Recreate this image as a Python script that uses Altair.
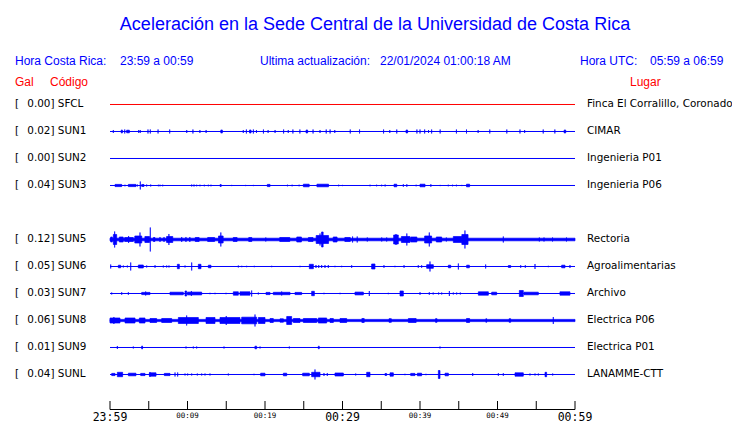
import altair as alt
import pandas as pd

# ---------------- text content ----------------
TITLE = "Aceleración en la Sede Central de la Universidad de Costa Rica"
HEADER_CR = ["Hora Costa Rica:", "23:59 a 00:59"]
HEADER_UPD = ["Ultima actualización:", "22/01/2024 01:00:18 AM"]
HEADER_UTC = ["Hora UTC:", "05:59 a 06:59"]
COL_HEADS = ["Gal", "Código", "Lugar"]

# ---------------- stations ----------------
stations = ["SFCL", "SUN1", "SUN2", "SUN3", "SUN5", "SUN6", "SUN7", "SUN8", "SUN9", "SUNL"]
rows = [0, 1, 2, 3, 5, 6, 7, 8, 9, 10]
gal = [0.00, 0.02, 0.00, 0.04, 0.12, 0.05, 0.03, 0.06, 0.01, 0.04]
places = ["Finca El Corralillo, Coronado", "CIMAR", "Ingenieria P01", "Ingenieria P06",
          "Rectoria", "Agroalimentarias", "Archivo", "Electrica P06", "Electrica P01",
          "LANAMME-CTT"]

# time axis (minutes after 23:59)
minutes_range = [0, 60]
tick_minutes = [0, 5, 10, 15, 20, 25, 30, 35, 40, 45, 50, 55, 60]
major_minutes = [0, 30, 60]
major_labels = ["23:59", "00:29", "00:59"]
minor_minutes = [10, 20, 40, 50]
minor_labels = ["00:09", "00:19", "00:39", "00:49"]

# continuous noise floor (half-amplitude, px)
noise_floor = {"SUN5": 1.3, "SUN8": 1.1}

# bursts: (start minute, end minute, half-amplitude px)
sun1 = [(0.43, 0.43, 1.5), (1.45, 1.6, 1.5), (1.9, 1.9, 2), (2.15, 2.5, 1.3), (3.7, 3.7, 1.5),
        (3.9, 3.9, 1.5), (4.9, 4.9, 2), (5.2, 5.2, 2), (6.2, 6.2, 2), (7.7, 7.7, 2),
        (9.9, 9.9, 1.5), (10.7, 10.7, 2), (11.6, 11.6, 1.5), (12.4, 12.4, 1.5), (14.3, 14.5, 1.5),
        (17.2, 17.2, 1.5), (17.6, 17.6, 2), (18.0, 18.2, 1.5), (18.5, 18.5, 2), (18.9, 18.9, 1.5),
        (19.8, 19.8, 2), (20.4, 20.4, 1.5), (21.3, 21.3, 1.5), (22.4, 22.4, 2), (23.0, 23.0, 1.5),
        (23.6, 23.6, 2), (24.5, 24.5, 2), (25.3, 25.5, 1.5), (26.2, 26.2, 2), (27.1, 27.1, 1.5),
        (27.9, 27.9, 2), (28.4, 28.4, 2), (29.0, 29.0, 1.5), (31.0, 31.0, 2), (32.2, 32.2, 2),
        (35.3, 35.3, 2), (36.1, 36.1, 1.5), (37.0, 37.0, 2), (38.2, 38.4, 1.5), (39.6, 39.6, 2),
        (40.0, 40.0, 2), (40.6, 40.6, 2), (41.1, 41.1, 1.5), (41.5, 41.5, 2), (42.6, 42.6, 2),
        (44.7, 44.7, 2), (46.0, 46.0, 2), (47.5, 47.5, 1.5), (49.0, 49.0, 2), (51.2, 51.2, 2),
        (52.9, 52.9, 2), (53.5, 53.5, 1.5), (55.9, 55.9, 2), (57.4, 57.4, 2), (58.6, 58.8, 1.5)]

sun3 = [(0.65, 1.51, 1.1), (1.93, 1.93, 0.8), (2.37, 3.35, 1.1), (3.53, 3.53, 1), (3.91, 3.91, 4),
        (4.09, 4.39, 1.0), (4.73, 4.73, 1), (5.25, 5.25, 1), (6.24, 6.24, 0.8), (6.45, 6.45, 0.8),
        (6.8, 6.8, 0.8), (10.54, 10.54, 1), (10.84, 10.84, 1), (11.18, 11.18, 0.8),
        (11.61, 11.61, 0.8), (12.17, 12.17, 0.8), (12.69, 12.69, 0.8), (13.03, 13.03, 0.8),
        (14.2, 14.35, 1.0), (15.7, 15.7, 0.6), (17.5, 17.5, 0.6), (18.5, 18.5, 0.6),
        (20.3, 20.65, 1.1), (22.9, 22.9, 0.8), (23.5, 23.5, 0.8), (24.4, 24.4, 0.8),
        (24.95, 25.7, 1.3), (26.7, 28.2, 1.3), (29.5, 29.5, 0.8), (30.0, 30.0, 0.6),
        (33.55, 33.55, 0.8), (34.4, 34.4, 0.8), (35.05, 35.05, 0.8), (35.5, 35.5, 1),
        (36.65, 37.0, 1.3), (37.85, 37.85, 1.3), (38.3, 38.3, 1.3), (39.5, 39.5, 0.8),
        (40.0, 40.65, 1.3), (41.4, 41.4, 1.3), (42.6, 42.6, 0.6), (43.65, 43.65, 0.8),
        (44.2, 44.2, 0.8), (44.7, 44.7, 0.8), (45.4, 45.4, 0.6), (46.0, 46.4, 1.3)]

sun5 = [(0.09, 0.3, 2.5), (0.43, 0.86, 5), (0.6, 0.6, 8), (1.2, 1.7, 2.5), (1.9, 3.0, 2),
        (2.4, 2.4, 3.5), (3.2, 4.1, 3.5), (3.87, 3.87, 7), (4.5, 5.1, 3), (5.2, 5.2, 12),
        (5.6, 5.8, 2), (6.45, 6.45, 2.5), (6.97, 6.97, 2.5), (7.3, 8.1, 3), (7.6, 7.6, 5.5),
        (9.25, 9.25, 2.5), (9.8, 9.8, 2.5), (10.3, 10.3, 2.5), (11.0, 11.5, 2), (12.6, 13.5, 2),
        (14.0, 14.6, 3.5), (14.3, 14.3, 7), (15.9, 16.4, 2), (17.9, 18.3, 2), (20.1, 20.1, 2),
        (21.9, 23.2, 2), (24.1, 24.7, 2.5), (25.6, 26.2, 2), (26.6, 28.2, 4), (27.1, 27.1, 6),
        (27.3, 27.5, 7.5), (28.8, 29.3, 2.5), (30.3, 31.0, 2), (31.3, 31.3, 3), (31.9, 31.9, 3),
        (33.2, 33.2, 2), (35.06, 35.06, 2), (35.7, 35.7, 2), (36.6, 37.2, 4.5), (36.9, 36.9, 5.5),
        (37.6, 38.7, 3), (38.3, 38.3, 6), (38.8, 39.6, 2.5), (40.6, 41.5, 3.5), (41.2, 41.2, 7),
        (42.1, 42.8, 2.5), (43.4, 43.4, 2), (44.3, 45.4, 3), (45.4, 46.2, 5), (45.8, 45.8, 9),
        (50.75, 50.75, 3), (55.4, 55.4, 2), (56.0, 56.0, 2), (57.1, 57.1, 2), (58.9, 58.9, 2)]

sun6 = [(0.09, 0.09, 2), (1.08, 1.38, 1.3), (1.72, 1.72, 1), (2.24, 2.24, 1), (2.67, 2.67, 4),
        (3.66, 4.3, 1.5), (4.73, 4.73, 1), (5.81, 5.81, 1.3), (6.88, 6.88, 1), (7.31, 7.31, 1),
        (7.61, 7.61, 1), (8.69, 8.95, 2.2), (9.68, 9.68, 1), (10.54, 10.54, 4), (11.4, 11.74, 2.2),
        (12.69, 13.03, 1.3), (16.56, 16.56, 1), (17.0, 17.0, 0.7), (17.63, 17.63, 0.7),
        (18.62, 18.62, 0.7), (20.86, 20.86, 0.7), (24.52, 24.52, 0.7), (25.72, 26.24, 2.2),
        (26.58, 26.58, 1.5), (26.93, 26.93, 1.5), (27.31, 27.31, 1.5), (27.74, 27.74, 1.5),
        (28.17, 28.17, 1.5), (29.03, 29.03, 0.7), (29.89, 29.89, 0.7), (31.18, 31.18, 1.3),
        (33.76, 34.19, 2.5), (35.35, 35.35, 1.3), (36.77, 36.77, 0.7), (37.94, 37.94, 1.3),
        (39.78, 39.78, 1.3), (40.21, 40.21, 1.3), (40.86, 41.72, 1.8), (41.29, 41.29, 5),
        (43.66, 43.96, 1.3), (44.95, 44.95, 3), (46.02, 46.37, 1.3), (48.47, 48.47, 2),
        (51.4, 51.7, 1), (52.99, 52.99, 1.3), (53.59, 53.59, 1.3), (54.84, 54.84, 2.5),
        (56.56, 56.56, 0.7), (58.28, 58.71, 1.3), (59.35, 59.35, 1.5)]

sun7 = [(0.22, 0.22, 1), (1.51, 1.51, 1.3), (2.37, 2.37, 1.3), (4.09, 5.16, 1.1), (4.6, 4.6, 2),
        (7.74, 9.46, 1.3), (9.68, 9.89, 2.5), (10.0, 11.83, 1.4), (10.5, 10.5, 2.5),
        (12.9, 12.9, 0.7), (13.55, 13.55, 0.7), (14.97, 14.97, 0.7), (15.91, 16.56, 1.7),
        (16.77, 18.06, 1.7), (18.28, 18.28, 3), (19.14, 19.14, 1), (20.13, 20.65, 1.1),
        (21.07, 23.23, 1.2), (22.15, 22.15, 2), (23.87, 24.73, 1.1), (26.02, 26.37, 2.2),
        (27.61, 27.61, 0.7), (29.68, 29.68, 0.7), (31.61, 32.69, 1.4), (33.46, 33.46, 2.5),
        (35.91, 35.91, 0.7), (37.42, 37.85, 2.5), (40.0, 40.0, 1.3), (41.2, 41.2, 1.3),
        (41.7, 41.7, 1), (42.4, 42.4, 1), (42.8, 42.8, 1), (43.79, 43.79, 2.5), (44.3, 44.3, 1),
        (44.73, 44.73, 1), (45.2, 45.2, 1), (47.53, 48.82, 1.7), (49.25, 49.89, 1.3),
        (52.82, 53.33, 3), (53.42, 55.27, 1.3), (58.06, 59.35, 1.7)]

sun8 = [(0.0, 1.29, 2.5), (0.5, 0.5, 3.5), (1.94, 3.23, 2.5), (3.79, 4.52, 2.5), (5.16, 6.02, 2),
        (6.67, 7.96, 2), (8.82, 11.4, 3), (9.89, 9.89, 5), (12.39, 13.55, 3),
        (14.19, 16.77, 3), (15.0, 15.0, 4.5), (16.99, 18.92, 3.3), (18.71, 18.71, 6),
        (19.14, 20.0, 3), (20.65, 21.07, 2), (21.94, 22.37, 1.7), (22.8, 23.44, 4),
        (23.66, 24.52, 2), (24.95, 26.67, 2), (26.88, 27.96, 2.5), (28.39, 28.82, 2),
        (29.68, 30.54, 2), (32.5, 32.8, 2), (36.0, 36.3, 1.8), (38.5, 39.5, 2),
        (42.0, 42.2, 1.8), (46.0, 46.4, 2), (48.5, 48.6, 1.8), (51.5, 51.7, 1.8), (57.2, 57.2, 3.5)]

sun9 = [(0.95, 0.95, 1.5), (3.01, 3.01, 1), (4.09, 4.2, 1.5), (9.81, 9.81, 1), (10.75, 10.75, 1),
        (11.18, 11.18, 1), (14.71, 14.71, 1), (18.7, 18.92, 1.3), (19.36, 19.36, 1),
        (23.14, 23.14, 1), (26.88, 27.0, 1.3), (42.58, 42.58, 1)]

sunl = [(0.22, 0.65, 1.1), (0.95, 1.63, 2.2), (2.37, 3.35, 1.3), (3.96, 4.52, 1.1), (5.08, 5.94, 1.7),
        (5.16, 5.16, 2.5), (7.01, 7.74, 1.1), (8.39, 8.39, 2), (8.73, 8.73, 2), (9.68, 9.68, 1),
        (10.02, 10.02, 1), (10.54, 10.54, 1), (11.27, 11.27, 1), (11.83, 11.83, 1),
        (12.26, 12.26, 1), (12.9, 12.9, 1), (15.27, 15.27, 1), (18.58, 18.58, 0.7),
        (19.44, 20.0, 1.3), (22.37, 22.8, 1.3), (24.86, 25.72, 1.3), (26.02, 27.1, 2.2),
        (26.45, 26.45, 5), (27.61, 27.61, 1.5), (28.04, 28.04, 1.5), (29.03, 30.11, 1.5),
        (31.7, 31.7, 1), (33.12, 33.55, 2.2), (35.48, 35.7, 1), (36.13, 36.56, 1.7),
        (38.06, 38.06, 0.7), (38.8, 39.35, 1.1), (39.66, 40.21, 1.3), (40.77, 40.77, 0.7),
        (42.37, 42.58, 4), (43.23, 43.66, 1.3), (46.8, 46.8, 1.5), (50.11, 50.11, 1.3),
        (50.75, 50.75, 1.3), (52.26, 53.33, 1.7), (54.19, 54.19, 1), (54.84, 54.84, 1),
        (55.27, 55.27, 1), (56.13, 56.34, 2.2), (57.12, 57.12, 1)]

bursts = {"SUN1": sun1, "SUN3": sun3, "SUN5": sun5, "SUN6": sun6, "SUN7": sun7,
          "SUN8": sun8, "SUN9": sun9, "SUNL": sunl}

# ---------------- tables ----------------
PX_PER_ROW = 27.0
row_of = dict(zip(stations, rows))

st_df = pd.DataFrame({
    "code": stations, "row": rows,
    "t0": [minutes_range[0]] * len(stations), "t1": [minutes_range[1]] * len(stations),
    "val": [f"{g:.2f}] {c}" for g, c in zip(gal, stations)],
    "place": places,
})

recs = []
for code, amp in noise_floor.items():
    r = row_of[code]
    recs.append({"code": code, "t0": minutes_range[0], "t1": minutes_range[1],
                 "y0": r - amp / PX_PER_ROW, "y1": r + amp / PX_PER_ROW})
for code, lst in bursts.items():
    r = row_of[code]
    for t0, t1, a in lst:
        recs.append({"code": code, "t0": t0, "t1": t1,
                     "y0": r - a / PX_PER_ROW, "y1": r + a / PX_PER_ROW})
burst_df = pd.DataFrame(recs)

BLUE = "#0000ff"
RED = "#ff0000"

xs = alt.Scale(domain=minutes_range, nice=False, zero=False)
ys = alt.Scale(domain=[-0.5, 11.2778], reverse=True, nice=False, zero=False)
cs = alt.Scale(domain=stations, range=[RED] + [BLUE] * (len(stations) - 1))

base_lines = alt.Chart(st_df).mark_rule(strokeWidth=1).encode(
    x=alt.X("t0:Q", scale=xs, axis=None),
    x2="t1:Q",
    y=alt.Y("row:Q", scale=ys, axis=None),
    color=alt.Color("code:N", scale=cs, legend=None),
)

burst_marks = alt.Chart(burst_df).mark_rect(strokeWidth=0.7).encode(
    x=alt.X("t0:Q", scale=xs, axis=None),
    x2="t1:Q",
    y=alt.Y("y0:Q", scale=ys, axis=None),
    y2="y1:Q",
    color=alt.Color("code:N", scale=cs, legend=None),
    stroke=alt.Stroke("code:N", scale=cs, legend=None),
)

# station labels
lab_font = dict(font="DejaVu Sans", fontSize=10.4, color="black", align="left", baseline="middle")
bracket = alt.Chart(st_df).mark_text(text="[", **lab_font).encode(
    x=alt.value(-95), y=alt.Y("row:Q", scale=ys, axis=None))
values = alt.Chart(st_df).mark_text(**lab_font).encode(
    x=alt.value(-82.7), y=alt.Y("row:Q", scale=ys, axis=None), text="val:N")
place_txt = alt.Chart(st_df).mark_text(**lab_font).encode(
    x=alt.value(477), y=alt.Y("row:Q", scale=ys, axis=None), text="place:N")

# time axis
axis_line = alt.Chart(pd.DataFrame({"t0": [minutes_range[0]], "t1": [minutes_range[1]]})).mark_rule(
    color="black", strokeWidth=1).encode(
    x=alt.X("t0:Q", scale=xs, axis=None), x2="t1:Q", y=alt.value(318.5))
ticks = alt.Chart(pd.DataFrame({"m": tick_minutes})).mark_rule(color="black", strokeWidth=1).encode(
    x=alt.X("m:Q", scale=xs, axis=None), y=alt.value(310), y2=alt.value(318.5))
major_txt = alt.Chart(pd.DataFrame({"m": major_minutes, "lab": major_labels})).mark_text(
    font="DejaVu Sans Mono", fontSize=11.5, baseline="top", align="center", color="black").encode(
    x=alt.X("m:Q", scale=xs, axis=None), y=alt.value(320.5), text="lab:N")
minor_txt = alt.Chart(pd.DataFrame({"m": minor_minutes, "lab": minor_labels})).mark_text(
    font="DejaVu Sans Mono", fontSize=7.5, baseline="top", align="center", color="black").encode(
    x=alt.X("m:Q", scale=xs, axis=None), y=alt.value(321), text="lab:N")


def label(txt, x, y, size, color, align="left"):
    return alt.Chart(pd.DataFrame({"t": [txt]})).mark_text(
        align=align, baseline="alphabetic", font="Liberation Sans", fontSize=size, color=color
    ).encode(x=alt.value(x), y=alt.value(y), text="t:N")


headers = [
    label(TITLE, 265, -61, 18, BLUE, align="center"),
    label(HEADER_CR[0], -95, -26, 12, BLUE),
    label(HEADER_CR[1], 10, -26, 12, BLUE),
    label(HEADER_UPD[0], 150, -26, 12, BLUE),
    label(HEADER_UPD[1], 270, -26, 12, BLUE),
    label(HEADER_UTC[0], 470, -26, 12, BLUE),
    label(HEADER_UTC[1], 540, -26, 12, BLUE),
    label(COL_HEADS[0], -95, -5, 12, RED),
    label(COL_HEADS[1], -60, -5, 12, RED),
    label(COL_HEADS[2], 520, -5, 12, RED),
]

chart = alt.layer(
    base_lines, burst_marks, bracket, values, place_txt,
    axis_line, ticks, major_txt, minor_txt, *headers
).properties(
    width=465, height=318,
    padding={"left": 102, "top": 83, "right": 157, "bottom": 13},
    autosize=alt.AutoSizeParams(type="none"),
    background="white",
).configure_view(strokeWidth=0)

chart.save("out.html", embed_options={"renderer": "svg", "actions": False})
